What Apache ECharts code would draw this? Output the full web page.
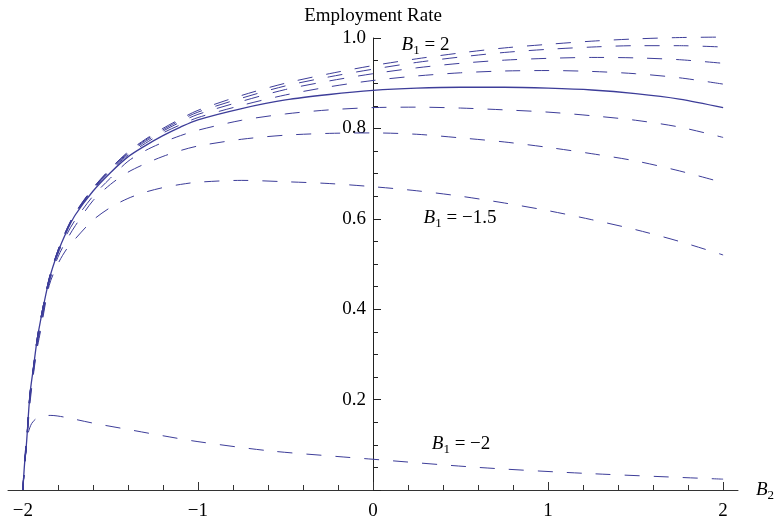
<!DOCTYPE html>
<html>
<head>
<meta charset="utf-8">
<script src="https://cdn.jsdelivr.net/npm/echarts@6/dist/echarts.min.js"></script>
<style>
  html, body { margin: 0; padding: 0; background: #fff; }
  #chart { width: 775px; height: 521px; }
</style>
</head>
<body>
<div id="chart"></div>
<script>
(function () {
  var serif = '"Liberation Serif", "DejaVu Serif", serif';
  var ink = '#000';
  var lineColor = '#3d3d99';

  // shared B2 grid for the main bundle of curves
  var b2 = [-2, -1.99, -1.98, -1.96, -1.94, -1.92, -1.9, -1.85, -1.8, -1.75, -1.7, -1.6, -1.5,
            -1.4, -1.3, -1.2, -1.1, -1.0, -0.75, -0.5, -0.25, 0, 0.25, 0.5, 0.75, 1.0,
            1.25, 1.5, 1.75, 2.0];
  var rateB1p2  = [0, 0.06, 0.10, 0.21, 0.27, 0.33, 0.375, 0.468, 0.53, 0.577, 0.614, 0.668, 0.711,
                   0.748, 0.776, 0.800, 0.821, 0.840, 0.873, 0.900, 0.921, 0.939, 0.954, 0.967,
                   0.978, 0.986, 0.993, 0.998, 1.001, 1.002];
  var rateB1p15 = [0, 0.06, 0.10, 0.21, 0.27, 0.33, 0.375, 0.468, 0.53, 0.576, 0.613, 0.667, 0.710,
                   0.746, 0.774, 0.797, 0.818, 0.836, 0.867, 0.894, 0.914, 0.931, 0.946, 0.958,
                   0.968, 0.975, 0.980, 0.983, 0.983, 0.980];
  var rateB1p1  = [0, 0.06, 0.10, 0.21, 0.27, 0.33, 0.375, 0.467, 0.529, 0.575, 0.612, 0.666, 0.708,
                   0.744, 0.771, 0.794, 0.814, 0.831, 0.860, 0.886, 0.905, 0.921, 0.934, 0.944,
                   0.951, 0.955, 0.957, 0.956, 0.952, 0.944];
  var rateB1p05 = [0, 0.06, 0.10, 0.21, 0.27, 0.33, 0.374, 0.466, 0.528, 0.574, 0.611, 0.664, 0.706,
                   0.741, 0.767, 0.790, 0.808, 0.824, 0.851, 0.874, 0.892, 0.906, 0.916, 0.923,
                   0.927, 0.928, 0.926, 0.921, 0.912, 0.898];
  var rateB1z   = [0, 0.06, 0.10, 0.21, 0.27, 0.329, 0.373, 0.465, 0.526, 0.572, 0.609, 0.661, 0.702,
                   0.737, 0.762, 0.784, 0.803, 0.819, 0.844, 0.863, 0.875, 0.884, 0.889, 0.891,
                   0.891, 0.889, 0.885, 0.877, 0.865, 0.846];
  var rateB1m05 = [0, 0.06, 0.10, 0.205, 0.265, 0.32, 0.365, 0.462, 0.522, 0.565, 0.598, 0.65, 0.69,
                   0.727, 0.751, 0.769, 0.784, 0.796, 0.818, 0.832, 0.841, 0.846, 0.847, 0.845,
                   0.841, 0.836, 0.828, 0.818, 0.803, 0.780];
  var rateB1m1  = [0, 0.058, 0.097, 0.2, 0.26, 0.315, 0.357, 0.458, 0.515, 0.553, 0.585, 0.64, 0.676,
                   0.703, 0.722, 0.738, 0.751, 0.761, 0.776, 0.785, 0.789, 0.790, 0.787, 0.779,
                   0.770, 0.758, 0.744, 0.728, 0.706, 0.680];
  var rateB1m15 = [0, 0.055, 0.095, 0.19, 0.255, 0.31, 0.35, 0.452, 0.50, 0.533, 0.556, 0.597, 0.625,
                   0.645, 0.659, 0.669, 0.676, 0.681, 0.685, 0.682, 0.678, 0.671, 0.662, 0.650,
                   0.635, 0.618, 0.598, 0.576, 0.550, 0.520];

  // B1 = -2 has its own sampling
  var b2Low = [-2, -1.99, -1.98, -1.97, -1.95, -1.92, -1.88, -1.84, -1.76, -1.6, -1.4, -1.2,
               -1.0, -0.6, -0.2, 0, 0.6, 1.2, 2];
  var rateB1m2 = [0, 0.07, 0.105, 0.126, 0.147, 0.159, 0.164, 0.165, 0.161, 0.148, 0.134, 0.12,
                  0.107, 0.087, 0.074, 0.068, 0.05, 0.037, 0.024];

  var xMajor = [-2, -1, 0, 1, 2];
  var xMinor = [-1.8, -1.6, -1.4, -1.2, -0.8, -0.6, -0.4, -0.2, 0.2, 0.4, 0.6, 0.8,
                1.2, 1.4, 1.6, 1.8];

  var curves = [
    { name: 'B1 = 2', xs: b2, ys: rateB1p2, dashed: true },
    { name: 'B1 = 1.5', xs: b2, ys: rateB1p15, dashed: true },
    { name: 'B1 = 1', xs: b2, ys: rateB1p1, dashed: true },
    { name: 'B1 = 0.5', xs: b2, ys: rateB1p05, dashed: true },
    { name: 'B1 = 0', xs: b2, ys: rateB1z, dashed: false },
    { name: 'B1 = -0.5', xs: b2, ys: rateB1m05, dashed: true },
    { name: 'B1 = -1', xs: b2, ys: rateB1m1, dashed: true },
    { name: 'B1 = -1.5', xs: b2, ys: rateB1m15, dashed: true },
    { name: 'B1 = -2', xs: b2Low, ys: rateB1m2, dashed: true }
  ];

  // label anchors in data coordinates
  var notes = [
    { text: '2', at: [0.30, 0.984] },
    { text: '\u22121.5', at: [0.497, 0.601] },
    { text: '\u22122', at: [0.503, 0.102] }
  ];

  var rich = {
    i: { fontFamily: serif, fontStyle: 'italic', fontSize: 19, lineHeight: 24, color: ink },
    s: { fontFamily: serif, fontSize: 13, lineHeight: 13, verticalAlign: 'bottom', color: ink },
    t: { fontFamily: serif, fontSize: 19, lineHeight: 24, color: ink }
  };

  function minus(v) {
    return v < 0 ? '\u2212' + Math.abs(v) : String(v);
  }

  var gridLeft = 8, gridWidth = 730;

  var el = document.getElementById('chart');
  var chart = echarts.init(el, null, { renderer: 'canvas' });

  chart.setOption({
    animation: false,
    backgroundColor: '#fff',
    grid: {
      left: gridLeft, width: gridWidth, top: 38, bottom: 31,
      containLabel: false, outerBoundsMode: 'none'
    },
    xAxis: [{
      type: 'value',
      min: -2.085,
      max: 2.085,
      name: '{i|B}{s|2}',
      nameLocation: 'end',
      nameGap: 18,
      nameTextStyle: { rich: rich },
      axisLine: { lineStyle: { color: '#333', width: 1 } },
      axisTick: { inside: true, length: 8, customValues: xMajor, lineStyle: { color: '#333' } },
      axisLabel: {
        customValues: xMajor,
        margin: 12,
        color: ink,
        fontFamily: serif,
        fontSize: 19,
        formatter: function (v) { return minus(v); }
      },
      splitLine: { show: false }
    }, {
      type: 'value',
      min: -2.085,
      max: 2.085,
      position: 'bottom',
      axisLine: { show: false },
      axisTick: { inside: true, length: 5, customValues: xMinor, lineStyle: { color: '#333' } },
      axisLabel: { show: false },
      splitLine: { show: false }
    }],
    yAxis: {
      type: 'value',
      min: 0,
      max: 1,
      interval: 0.2,
      position: 'left',
      offset: -gridWidth / 2,
      name: 'Employment Rate',
      nameLocation: 'end',
      nameGap: 12,
      nameTextStyle: { color: ink, fontFamily: serif, fontSize: 19, align: 'center' },
      axisLine: { onZero: false, lineStyle: { color: '#222', width: 1 } },
      axisTick: { inside: true, length: 8, lineStyle: { color: '#222' } },
      minorTick: { show: true, splitNumber: 4, length: 5, lineStyle: { color: '#222' } },
      axisLabel: {
        margin: 7,
        color: ink,
        fontFamily: serif,
        fontSize: 19,
        formatter: function (v) { return v === 0 ? '' : v.toFixed(1); }
      },
      splitLine: { show: false }
    },
    series: curves.map(function (c) {
      return {
        name: c.name,
        type: 'line',
        xAxisIndex: 0,
        showSymbol: false,
        symbol: 'none',
        smooth: 0.3,
        clip: false,
        data: c.xs.map(function (x, i) { return [x, c.ys[i]]; }),
        lineStyle: {
          color: lineColor,
          width: c.dashed ? 1 : 1.3,
          type: c.dashed ? [15, 14] : 'solid'
        }
      };
    })
  });

  chart.setOption({
    graphic: notes.map(function (n) {
      var p = chart.convertToPixel({ xAxisIndex: 0, yAxisIndex: 0 }, n.at);
      return {
        type: 'text',
        x: p[0],
        y: p[1],
        style: {
          text: '{i|B}{s|1}{t| = ' + n.text + '}',
          rich: rich,
          align: 'center',
          verticalAlign: 'middle'
        }
      };
    })
  });
})();
</script>
</body>
</html>
